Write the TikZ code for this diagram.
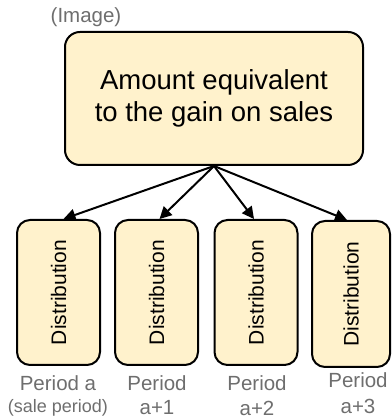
\documentclass[tikz,border=0pt]{standalone}
\usepackage{fontspec}
\setmainfont{Liberation Sans}
\usetikzlibrary{arrows.meta}
\definecolor{boxfill}{HTML}{FFF2CC}
\definecolor{lblgray}{HTML}{6E6E6E}
\tikzset{
  bigbox/.style={draw=black, line width=2pt, fill=boxfill, rounded corners=15pt, minimum width=298pt, minimum height=133pt, align=center, inner sep=0pt, font=\fontsize{27.5}{32}\selectfont},
  distbox/.style={draw=black, line width=2pt, fill=boxfill, rounded corners=13pt, minimum width=83pt, minimum height=145pt, inner sep=0pt},
  disttext/.style={rotate=90, font=\fontsize{21}{24}\selectfont},
  lbl/.style={text=lblgray, font=\fontsize{20.5}{24}\selectfont, inner sep=0pt},
  sublbl/.style={text=lblgray, font=\fontsize{18}{22}\selectfont, inner sep=0pt},
  arr/.style={line width=2pt, -{Triangle[length=12pt,width=12pt]}}
}
\begin{document}
\begin{tikzpicture}[x=1pt,y=1pt]
\useasboundingbox (0,0) rectangle (391,419);
\node[lbl] (img) at (86,402) {(Image)};
\node[bigbox] (top) at (214,320.5) {Amount equivalent\\to the gain on sales};
\node[distbox] (b1) at (58.5,126.5) {};
\node[distbox] (b2) at (156.5,126.5) {};
\node[distbox] (b3) at (256,126.5) {};
\node[distbox, minimum width=78pt, minimum height=146pt] (b4) at (351,125) {};
\node[disttext] (d1) at (b1) {Distribution};
\node[disttext] (d2) at (b2) {Distribution};
\node[disttext] (d3) at (b3) {Distribution};
\node[disttext] (d4) at (b4) {Distribution};
\draw[arr] (top.south) -- ([xshift=5pt]b1.north);
\draw[arr] (top.south) -- ([xshift=3pt]b2.north);
\draw[arr] (top.south) -- ([xshift=-2pt]b3.north);
\draw[arr] (top.south) -- ([xshift=-4pt]b4.north);
\node[lbl] (p1) at (58,36) {Period a};
\node[sublbl] (s1) at (58,11) {(sale period)};
\node[lbl] (p2) at (157,36) {Period};
\node[lbl] (s2) at (157,11) {a+1};
\node[lbl] (p3) at (257,36) {Period};
\node[lbl] (s3) at (257,11) {a+2};
\node[lbl] (p4) at (358,39) {Period};
\node[lbl] (s4) at (358,13) {a+3};
\end{tikzpicture}
\end{document}
